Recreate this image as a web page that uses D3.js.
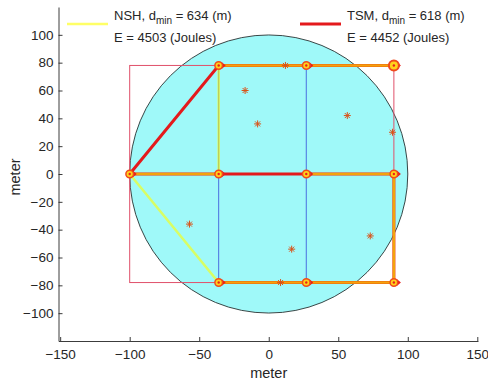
<!DOCTYPE html>
<html>
<head>
<meta charset="utf-8">
<script src="https://cdn.jsdelivr.net/npm/d3@7"></script>
<style>
  body { margin: 0; background: #fff; }
  text { font-family: "Liberation Sans", Arial, sans-serif; }
</style>
</head>
<body>
<div id="chart"></div>
<script>
// grid of cluster heads (meters)
var colX = [-36, 27, 90];
var rowY = [78, 0, -78];
var sink = [-100, 0];

// blue scan lines
var scanX = [-36, 27];

// sensor nodes (asterisks)
var sensorX = [12, -17, -8, 56.5, 89, -57, 16.5, 73, 8.5];
var sensorY = [78, 60, 36, 42, 30, -36, -54, -44.5, -78];

// NSH route (yellow)
var nshPaths = [
  [[90, 78], [27, 78], [-36, 78], [-36, 0], [-100, 0]],
  [[-100, 0], [-36, -78], [27, -78], [90, -78], [90, 0], [27, 0]]
];
// TSM route (red)
var tsmPaths = [
  [[-100, 0], [-36, 78], [27, 78], [90, 78]],
  [[-100, 0], [-36, 0], [27, 0], [90, 0], [90, -78], [27, -78], [-36, -78]]
];

var xTicks = [-150, -100, -50, 0, 50, 100, 150];
var yTicks = [-100, -80, -60, -40, -20, 0, 20, 40, 60, 80, 100];

var legendLabels = [
  { name: "NSH", d: 634, e: 4503 },
  { name: "TSM", d: 618, e: 4452 }
];

var svgWidth = 488;
var svgHeight = 383;

var svg = d3.select("#chart")
  .append("svg")
  .attr("width", svgWidth)
  .attr("height", svgHeight);

var x = d3.scaleLinear().domain([-151.2, 150.5]).range([58.5, 478]);
var y = d3.scaleLinear().domain([-120, 120]).range([341, 7]);

var axisColor = "#262626";

// field circle
svg.append("circle")
  .attr("cx", x(0))
  .attr("cy", y(0))
  .attr("r", x(100) - x(0))
  .attr("fill", "#9ff9f9")
  .attr("stroke", "#263232")
  .attr("stroke-width", 0.9);

svg.selectAll(".scan")
  .data(scanX)
  .enter()
  .append("line")
  .attr("x1", d => x(d))
  .attr("x2", d => x(d))
  .attr("y1", y(rowY[0]))
  .attr("y2", y(rowY[2]))
  .attr("stroke", "#4a6fe0")
  .attr("stroke-width", 1);

// bounding rectangle
svg.append("rect")
  .attr("x", x(sink[0]))
  .attr("y", y(rowY[0]))
  .attr("width", x(colX[2]) - x(sink[0]))
  .attr("height", y(rowY[2]) - y(rowY[0]))
  .attr("fill", "none")
  .attr("stroke", "#e0506a")
  .attr("stroke-width", 1);

var line = d3.line().x(d => x(d[0])).y(d => y(d[1]));

svg.selectAll(".tsm")
  .data(tsmPaths)
  .enter()
  .append("path")
  .attr("d", line)
  .attr("fill", "none")
  .attr("stroke", "#e41a1c")
  .attr("stroke-width", 3);

svg.selectAll(".nsh")
  .data(nshPaths)
  .enter()
  .append("path")
  .attr("d", line)
  .attr("fill", "none")
  .attr("stroke", "#ffff00")
  .attr("stroke-opacity", 0.6)
  .attr("stroke-width", 2.5);

// asterisks
var star = svg.selectAll(".star")
  .data(d3.range(sensorX.length))
  .enter()
  .append("g")
  .attr("transform", i => `translate(${x(sensorX[i])},${y(sensorY[i])})`)
  .attr("stroke", "#d95319")
  .attr("stroke-width", 1);
[[-3.5, 0, 3.5, 0], [0, -3.5, 0, 3.5], [-2.5, -2.5, 2.5, 2.5], [-2.5, 2.5, 2.5, -2.5]].forEach(function(s) {
  star.append("line").attr("x1", s[0]).attr("y1", s[1]).attr("x2", s[2]).attr("y2", s[3]);
});

// cluster head markers
var nodes = [sink];
rowY.forEach(function(ry) { colX.forEach(function(cx) { nodes.push([cx, ry]); }); });

var nodeG = svg.selectAll(".node")
  .data(nodes)
  .enter()
  .append("g")
  .attr("transform", d => `translate(${x(d[0])},${y(d[1])})`);

nodeG.append("path")
  .attr("d", "M3,-3.5L7,0L3,3.5Z")
  .attr("fill", "#e8201c");
nodeG.append("circle")
  .attr("r", d => (d[0] === colX[2] && d[1] === rowY[0]) ? 5 : 3.8)
  .attr("fill", "#ffd21a")
  .attr("stroke", "#f04a1c")
  .attr("stroke-width", d => (d[0] === colX[2] && d[1] === rowY[0]) ? 2 : 1.5);
nodeG.append("circle")
  .attr("r", 1.2)
  .attr("fill", "#e8201c");

// axes
var leftAxis = d3.axisLeft(y).tickValues(yTicks).tickSize(-4).tickSizeOuter(0).tickPadding(5);
var bottomAxis = d3.axisBottom(x).tickValues(xTicks).tickSize(-4).tickSizeOuter(0).tickPadding(8);

var gy = svg.append("g")
  .attr("transform", `translate(${x.range()[0]},0)`)
  .call(leftAxis);
var gx = svg.append("g")
  .attr("transform", `translate(0,${y.range()[0]})`)
  .call(bottomAxis);

[gx, gy].forEach(function(g) {
  g.select(".domain").attr("stroke", axisColor).attr("stroke-width", 0.9);
  g.selectAll(".tick line").attr("stroke", axisColor).attr("stroke-width", 0.9);
  g.selectAll(".tick text")
    .attr("fill", axisColor)
    .style("font-size", "13.5px")
    .style("font-family", "'Liberation Sans', Arial, sans-serif");
});

svg.append("text")
  .attr("x", (x(-150) + x(150)) / 2)
  .attr("y", 378)
  .attr("text-anchor", "middle")
  .attr("fill", axisColor)
  .style("font-size", "14.5px")
  .text("meter");

svg.append("text")
  .attr("transform", "translate(20,177) rotate(-90)")
  .attr("text-anchor", "middle")
  .attr("fill", axisColor)
  .style("font-size", "14.5px")
  .text("meter");

// legend
var legendX = [67, 300];
var legendColors = ["#ffff00", "#e41a1c"];
legendLabels.forEach(function(l, i) {
  svg.append("line")
    .attr("x1", legendX[i]).attr("x2", legendX[i] + 41)
    .attr("y1", 24).attr("y2", 24)
    .attr("stroke", legendColors[i])
    .attr("stroke-opacity", i === 0 ? 0.6 : 1)
    .attr("stroke-width", i === 0 ? 2.5 : 3);

  var t = svg.append("text")
    .attr("x", legendX[i] + 47)
    .attr("y", 20)
    .attr("fill", axisColor)
    .style("font-size", "13px");
  t.append("tspan").text(l.name + ", d");
  t.append("tspan").attr("dy", 4).style("font-size", "10px").text("min");
  t.append("tspan").attr("dy", -4).text(" = " + l.d + " (m)");

  svg.append("text")
    .attr("x", legendX[i] + 47)
    .attr("y", 41.5)
    .attr("fill", axisColor)
    .style("font-size", "13px")
    .text("E = " + l.e + " (Joules)");
});
</script>
</body>
</html>
